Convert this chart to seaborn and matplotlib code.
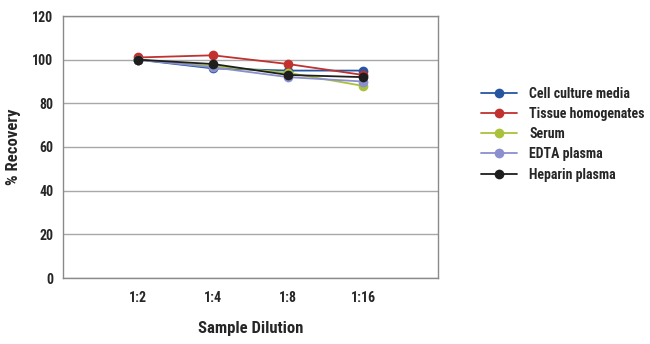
import matplotlib
matplotlib.use("Agg")
import matplotlib.pyplot as plt
from matplotlib import font_manager
import seaborn as sns
import pandas as pd

dilutions = ["1:2", "1:4", "1:8", "1:16"]
cell_culture_media = [100, 96, 95, 95]
tissue_homogenates = [101, 102, 98, 93]
serum = [100, 97, 94, 88]
edta_plasma = [100, 96.5, 92, 90]
heparin_plasma = [100, 98, 93, 92]

series_names = ["Cell culture media", "Tissue homogenates", "Serum", "EDTA plasma", "Heparin plasma"]
series_values = [cell_culture_media, tissue_homogenates, serum, edta_plasma, heparin_plasma]
colors = ["#2656a0", "#c0312f", "#a9c23a", "#8b8fd0", "#1e1e1e"]

rows = []
for name, vals in zip(series_names, series_values):
    for d, v in zip(dilutions, vals):
        rows.append({"Sample Dilution": d, "% Recovery": v, "Sample": name})
df = pd.DataFrame(rows)

sns.set_style("white")
fam = "DejaVu Sans"
for cand in ["Liberation Sans Narrow", "Roboto Condensed", "Open Sans Condensed"]:
    try:
        font_manager.findfont(font_manager.FontProperties(family=cand), fallback_to_default=False)
        fam = cand
        break
    except Exception:
        pass
plt.rcParams["font.family"] = [fam, "DejaVu Sans"]
plt.rcParams["font.weight"] = "bold"

fig = plt.figure(figsize=(6.5, 3.44), dpi=100)
ax = fig.add_axes([63/650, 1-278/344, (438-63)/650, (278-16)/344])

sns.lineplot(data=df, x="Sample Dilution", y="% Recovery", hue="Sample",
             hue_order=series_names, palette=colors, marker="o", markersize=7,
             markeredgewidth=0, linewidth=1.3, ax=ax, sort=False)

ax.set_xlim(-1, 4)
ax.set_ylim(0, 120)
ax.set_yticks(range(0, 121, 20))
ax.yaxis.grid(True, color="#a8a8a8", linewidth=1)
ax.xaxis.grid(False)
ax.set_axisbelow(True)
for s in ax.spines.values():
    s.set_color("#8a8a8a")
    s.set_linewidth(1)
ax.tick_params(axis="both", which="both", length=3, color="#8a8a8a", labelsize=10, pad=6)
ax.tick_params(axis="y", pad=4)
ax.set_xlabel("Sample Dilution", fontsize=12, fontweight="bold", labelpad=12)
ax.set_ylabel("% Recovery", fontsize=12, fontweight="bold", labelpad=8)

leg = ax.legend(loc="upper left", bbox_to_anchor=((475-63)/375, 1-(81-16)/262),
                frameon=False, fontsize=10, handlelength=2.6, handletextpad=0.9,
                labelspacing=0.45, borderaxespad=0)

fig.savefig("out.png", dpi=100)
